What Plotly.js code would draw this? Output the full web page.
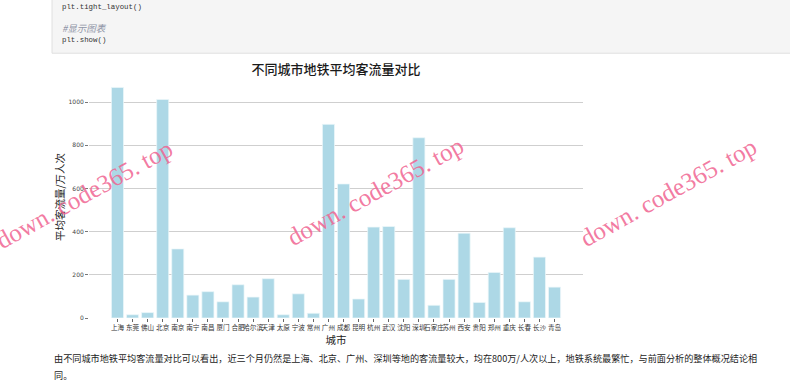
<!DOCTYPE html>
<html>
<head>
<meta charset="utf-8">
<script src="https://cdn.plot.ly/plotly-3.0.1.min.js"></script>
<style>
html,body{margin:0;padding:0;background:#fff;}
#chart{width:790px;height:385px;}
</style>
</head>
<body>
<div id="chart"></div>
<script>
// Data
const cities = ["上海","东莞","佛山","北京","南京","南宁","南昌","厦门","合肥","哈尔滨",
  "天津","太原","宁波","常州","广州","成都","昆明","杭州","武汉","沈阳",
  "深圳","石家庄","苏州","西安","贵阳","郑州","重庆","长春","长沙","青岛"];
const avgFlow = [1068,15,25,1012,320,106,122,75,154,97,
  182,15,112,22,897,621,88,421,424,179,
  835,59,179,393,72,211,418,75,282,143];
const yTicks = [0,200,400,600,800,1000];

const chartTitle = "不同城市地铁平均客流量对比";
const xTitle = "城市";
const yTitle = "平均客流量/万人次";
const codeLines = ["plt.tight_layout()", "#显示图表", "plt.show()"];
const paraLine1 = "由不同城市地铁平均客流量对比可以看出，近三个月仍然是上海、北京、广州、深圳等地的客流量较大，均在800万/人次以上，地铁系统最繁忙，与前面分析的整体概况结论相";
const paraLine2 = "同。";
const watermark = "down. code365. top";

const W = 790, H = 385;
const L = 89, R = 583, T = 75.8, B = 318.3;
const px = x => (x - L) / (R - L);
const py = y => (B - y) / (B - T);

const cjk = '"Noto Sans CJK SC", "Noto Sans", sans-serif';

const trace = {
  type: 'bar',
  x: cities,
  y: avgFlow,
  width: 0.8,
  marker: {color: '#add8e6', line: {color: 'rgba(235,247,250,0.9)', width: 0.8}},
  hoverinfo: 'x+y'
};

const annotations = [];
// code cell texts
annotations.push({xref:'paper', yref:'paper', x: px(60), y: py(6.7), xanchor:'left', yanchor:'middle',
  text: codeLines[0], showarrow:false, font:{family:'"Liberation Mono", monospace', size:7.4, color:'#333'}});
annotations.push({xref:'paper', yref:'paper', x: px(60), y: py(27.7), xanchor:'left', yanchor:'middle',
  text: '<i>' + codeLines[1] + '</i>', showarrow:false, font:{family:'"Noto Sans CJK SC", monospace', size:9.5, color:'#8f94a6'}});
annotations.push({xref:'paper', yref:'paper', x: px(60), y: py(39.3), xanchor:'left', yanchor:'middle',
  text: codeLines[2], showarrow:false, font:{family:'"Liberation Mono", monospace', size:7.4, color:'#333'}});
// paragraph
annotations.push({xref:'paper', yref:'paper', x: px(52), y: py(358), xanchor:'left', yanchor:'middle',
  text: paraLine1, showarrow:false, font:{family:cjk, size:9.15, color:'#222'}});
annotations.push({xref:'paper', yref:'paper', x: px(52), y: py(375.5), xanchor:'left', yanchor:'middle',
  text: paraLine2, showarrow:false, font:{family:cjk, size:9.15, color:'#222'}});
// watermarks
[[84,195],[375,192],[668,193]].forEach(c => {
  annotations.push({xref:'paper', yref:'paper', x: px(c[0]), y: py(c[1]), xanchor:'center', yanchor:'middle',
    text: watermark, showarrow:false, textangle:-29,
    font:{family:'"Liberation Serif", "DejaVu Serif", serif', size:25, color:'rgba(240,100,145,0.85)'}});
});

const layout = {
  width: W, height: H,
  margin: {l: L, r: W - R, t: T, b: H - B, pad: 0},
  paper_bgcolor: '#ffffff',
  plot_bgcolor: 'rgba(0,0,0,0)',
  showlegend: false,
  bargap: 0.2,
  title: {text: chartTitle, xref: 'container', x: 336 / W, xanchor:'center',
    yref: 'container', y: 1 - 69/H, yanchor:'middle',
    font: {family: cjk, size: 13, color: '#1a1a1a', weight: 500}},
  xaxis: {
    type: 'category',
    range: [-1.89, 30.89],
    showgrid: false, zeroline: false, showline: false,
    ticks: 'outside', ticklen: 3, tickwidth: 1, tickcolor: '#666',
    tickfont: {family: cjk, size: 6.6, color: '#333'},
    tickangle: 0,
    title: {text: xTitle, standoff: 3, font: {family: cjk, size: 10.5, color: '#222'}}
  },
  yaxis: {
    range: [0, 1121],
    tickvals: yTicks,
    ticktext: yTicks.map(String),
    showgrid: true, gridcolor: '#cfcfcf', gridwidth: 1,
    zeroline: false, showline: false,
    ticks: 'outside', ticklen: 3, tickwidth: 1, tickcolor: '#777',
    tickfont: {family: '"DejaVu Sans", sans-serif', size: 6, color: '#444'},
    title: {text: yTitle, standoff: 1, font: {family: cjk, size: 10.5, color: '#222'}}
  },
  shapes: [
    {type:'rect', xref:'paper', yref:'paper', x0: px(52), x1: px(791), y0: py(53), y1: py(-2),
      fillcolor:'#f5f5f5', line:{color:'#e0e0e0', width:1}, layer:'below'}
  ],
  annotations: annotations
};

Plotly.newPlot('chart', [trace], layout, {displayModeBar: false, staticPlot: true});
</script>
</body>
</html>
